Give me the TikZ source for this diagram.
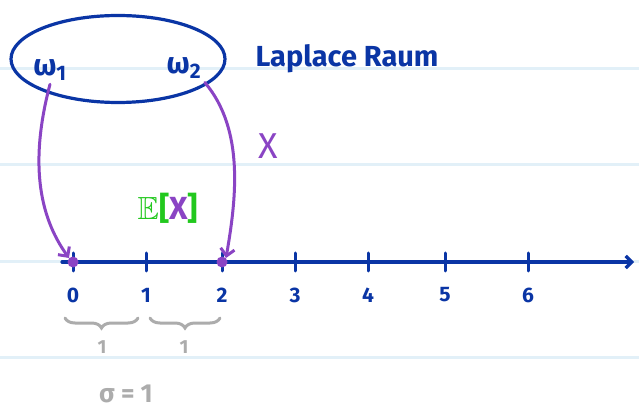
\documentclass[tikz,border=0pt]{standalone}
\usepackage{fontspec}
\setmainfont{Fira Sans}
\usepackage{amssymb}
\usetikzlibrary{arrows.meta, positioning, shapes.geometric, decorations.pathreplacing}
\definecolor{ink}{HTML}{0A35A5}
\definecolor{pen}{HTML}{8A44C4}
\definecolor{hilite}{HTML}{22C81E}
\definecolor{pencil}{HTML}{ACACAC}
\definecolor{paper}{HTML}{E2F0F8}
\tikzset{
  rule/.style={paper, line width=3pt},
  axis/.style={ink, line width=3.2pt, line cap=round, -{Straight Barb[length=6pt,width=12pt]}},
  tick/.style={ink, line width=3pt, line cap=round},
  num/.style={ink, font=\bfseries\fontsize{21}{21}\selectfont},
  outcome/.style={ink, font=\bfseries\fontsize{30}{30}\selectfont},
  space/.style={draw=ink, line width=3.2pt, ellipse, minimum width=214pt, minimum height=87pt},
  map/.style={pen, line width=3pt, line cap=round, -{Straight Barb[length=7pt,width=14pt]}},
  pt/.style={circle, fill=pen, inner sep=0pt, minimum size=11pt},
  brc/.style={pencil, line width=3pt, line cap=round,
    decorate, decoration={brace, mirror, amplitude=10pt}},
  note/.style={pencil, font=\bfseries\fontsize{26}{26}\selectfont}
}
\begin{document}
\begin{tikzpicture}[x=1pt, y=-1pt]
  \useasboundingbox[fill=white] (0,0) rectangle (639,411);

  % lined paper
  \foreach \y in {69,165,262,357}
    \draw[rule] (0,\y) -- (639,\y);

  % sample space
  \node[space] (omega) at (118,59) {};
  \node[outcome] (w1) at (50,70) {ω\textsubscript{1}};
  \node[outcome] (w2) at (184,68) {ω\textsubscript{2}};
  \node[ink, anchor=base west, font=\bfseries\fontsize{29}{29}\selectfont] (laplace) at (252,67) {Laplace Raum};

  \node[pen, font=\fontsize{36}{36}\selectfont] (rv) at (268,146) {X};
  \node[hilite, font=\bfseries\fontsize{32}{32}\selectfont] (ex) at (168,208) {$\mathbb{E}$[\textcolor{pen}{X}]};

  % number line
  \coordinate (start) at (62,262);
  \coordinate (end) at (634,262);
  \draw[axis] (start) -- (end);
  \foreach \i/\x in {0/73,1/146,2/222,3/295,4/368,5/445,6/528} {
    \coordinate (t\i) at (\x,262);
    \draw[tick] (\x,253) -- (\x,271);
    \node[num] (n\i) at (\x,295) {\i};
  }
  \node[pt] (p0) at (t0) {};
  \node[pt] (p2) at (t2) {};

  % mapping
  \draw[map] (w1.south) .. controls (30,160) and (38,215) .. (p0.north west);
  \draw[map] (w2.south east) .. controls (245,130) and (236,200) .. (p2.north east);

  % distances
  \draw[brc] (65,318) -- (138,318);
  \draw[brc] (150,318) -- (220,318);
  \node[note, font=\bfseries\fontsize{19}{19}\selectfont] (d1) at (102,347) {1};
  \node[note, font=\bfseries\fontsize{19}{19}\selectfont] (d2) at (184,347) {1};
  \node[note] (sigma) at (126,394) {σ = 1};
\end{tikzpicture}
\end{document}
